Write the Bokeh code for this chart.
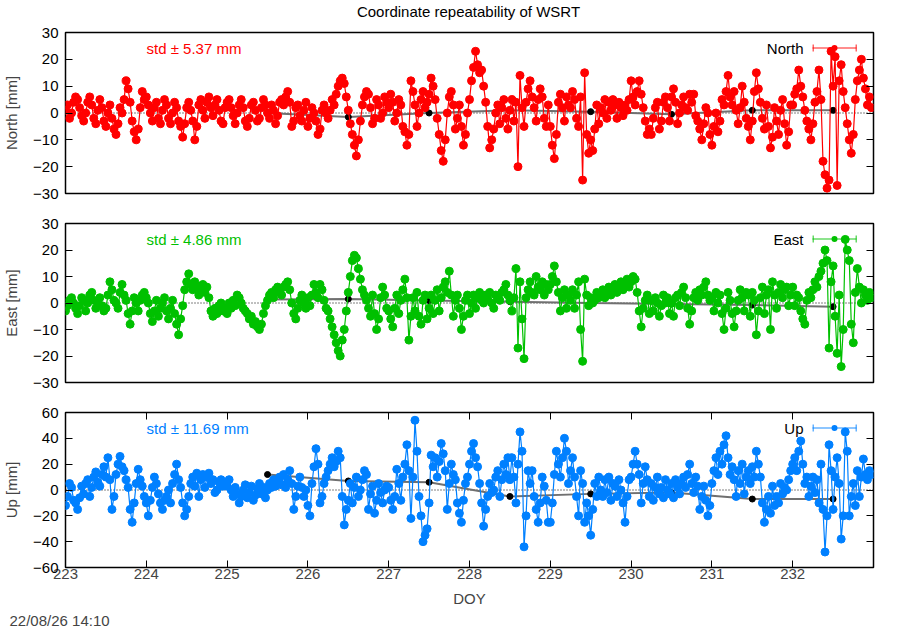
from bokeh.plotting import figure
from bokeh.models import Range1d, LinearAxis, FixedTicker, Label, BoxAnnotation, Title
from bokeh.layouts import column
from bokeh.embed import file_html
from bokeh.resources import INLINE

# ---------------- data ----------------
# one solution every 0.025 day (40 per day) from DOY 223.000
north = [
    1, 3, -2, 0, 4, 6, 5, 2, -1, -3, 0, 4, 6, 3, -2, -4, 1, 5, 2, -3,
    -5, 0, 3, -2, -6, -8, -4, 2, 0, 5, 12, 9, 4, -3, -7, -10, -6, 2, 8, 5,
    6, 3, 0, -3, 2, 4, -2, -4, 1, 5, 3, -2, -4, 0, 4, 2, -3, -5, -9, -4,
    2, 4, 1, -3, -10, -5, 3, 5, 1, -2, 4, 6, 2, -1, 3, 5, 1, -3, -4, 2,
    4, 5, 2, -1, -4, 0, 3, 5, 2, -3, -5, -2, 3, 4, 1, -3, -2, 2, 5, 3,
    0, -2, 3, 1, -4, -1, 4, 5, 3, 6, 8, 4, -5, -3, 2, 3, -1, -3, 1, 4,
    -5, -2, 2, 0, -3, -8, -6, 1, 3, 0, -2, 1, 5, 3, 7, 10, 12, 13, 11, 6,
    1, -4, -8, -12, -16, -10, -3, 3, 6, 8, 7, 2, -4, -2, 5, 3, -2, 0, 6, 4,
    2, 7, 4, -3, 0, 5, 3, -5, -7, -12, -8, 12, 8, 3, -5, 0, 5, 8, 2, 4,
    7, 13, 10, 5, -2, -8, -14, -18, -10, 0, 6, 8, 3, -6, -2, 3, -5, -12, -8, 0,
    5, 12, 17, 23, 18, 15, 16, 10, 4, -5, -13, -10, -6, 0, 3, -4, 2, 5, -2, -6,
    1, 5, -3, 4, -20, 14, 2, -5, 4, 9, 12, 6, 2, -3, 5, 9, 6, -2, -5, 3,
    -5, -12, -17, -8, 4, 7, 2, -3, 6, 3, 2, 8, 5, -2, -5, 6, -25, 15, -8, -15,
    -10, -14, -6, 3, -4, 2, 0, 5, -2, 4, 1, 5, 3, -2, 4, 2, -1, 3, 1, 5,
    12, 6, 3, 8, 12, 7, 2, -3, -8, -6, -8, -2, 2, 4, -6, -3, 4, 6, 2, -3,
    6, 9, 4, -4, 0, 3, 6, 2, 1, 7, 4, 7, -1, -3, -6, -10, -4, 2, 0, -8,
    -12, -5, 0, -7, -3, 5, 3, 8, 14, 6, 3, 8, 1, -4, 2, 10, 4, -2, -5, -10,
    -3, 8, 15, 9, 4, -2, -6, 3, -5, -13, -9, 2, -3, -8, 1, 5, -4, -12, -7, 3,
    3, 7, 9, 16, 10, 6, 1, -3, -6, -10, -4, 4, 8, 16, 5, -18, -23, -28, -25, 23,
    10, 21, -27, 12, 18, 8, 2, -4, -10, -15, -8, 5, 12, 16, 20, 13, 9, 3, 6, 2]

east = [
    -3, -1, 1, 2, 0, -2, -4, -1, 2, 1, -3, 0, 3, 4, 1, -2, 0, 2, -1, -3,
    -2, 3, 8, 5, 1, 0, -2, 4, 7, 3, 1, -4, -8, -3, 2, 0, -3, 1, 3, 4,
    2, 0, -4, -7, -3, 1, -5, -2, 0, 2, -3, -6, -2, 1, -4, -8, -12, -6, -1, 5,
    8, 11, 7, 5, 8, 6, 3, 5, 7, 4, 6, 2, -3, -5, -2, -4, -1, 0, -3, -2,
    -4, 0, -2, 1, -1, 3, 2, 0, -2, -3, -4, -6, -5, -8, -7, -9, -10, -8, -4, -1,
    1, 3, 4, 2, 5, 6, 4, 3, 6, 7, 8, 5, 0, -4, -6, -2, 1, 3, 0, -2,
    2, -1, 3, 7, 4, 2, 7, 5, 1, -2, -3, -6, -9, -12, -15, -18, -20, -14, -10, -3,
    4, 10, 16, 18, 17, 13, 9, 5, 3, 1, -2, -5, 3, -4, -10, -6, 2, 6, 3, -2,
    -3, -6, -9, -2, 3, -4, 1, 5, 9, 2, -14, -5, 2, -3, 4, -5, -8, 1, 3, -6,
    -2, 3, -4, 1, 5, -3, 2, 6, 8, 4, 12, 3, -5, 1, 3, -2, -10, -5, 1, 3,
    -4, 0, 3, -2, 2, 4, 1, 0, 3, 2, 4, 0, -2, 3, 2, 1, 4, 5, 7, 3,
    1, -3, 2, 13, -17, 8, -6, -21, 2, 5, 8, 4, 3, 10, 6, 5, 8, 3, 7, 5,
    7, 10, 14, 8, 4, -3, 2, 5, -2, 3, 1, 5, -2, 3, 8, -10, -22, 9, 3, -1,
    2, 0, 1, 4, 2, 3, 5, 2, 4, 6, 3, 5, 7, 4, 6, 8, 5, 7, 9, 6,
    8, 10, 9, 4, -3, -9, -2, 1, 3, -4, 1, -3, 2, 0, -5, -1, 3, 0, 2, -4,
    0, -5, 2, 3, -1, 4, 6, 2, -2, -8, -3, 2, 4, 1, 5, 3, 6, 8, 3, 1,
    2, -3, 4, 0, 3, -4, -10, -2, 4, 1, -4, -9, -3, 1, 5, 2, -3, 4, 3, -5,
    4, 1, -12, -3, 2, 6, -4, 3, 5, -10, 8, 3, -2, 4, 7, 2, 5, 6, -1, 3,
    6, -1, 3, 2, -3, -6, -8, 1, 4, 2, 5, 8, 6, 10, 12, 15, 20, 16, -17, 8,
    14, -5, -19, 3, -24, -10, 24, 20, 16, -8, -15, 4, 13, 6, 0, 5, 3, 1, 4, 2]

up = [
    -12, -5, 5, 2, -8, -10, -15, -6, 3, -3, 5, 8, -5, 2, 10, 14, 6, 3, 12, 18,
    10, 25, 8, -15, -5, 12, 20, 26, 18, 15, 8, 2, -15, -25, -10, 5, 16, 8, 3, -5,
    -10, -20, -8, 2, 10, 5, -3, -10, -15, -8, -5, 0, -10, 5, 12, 20, 8, 2, -10, -20,
    -15, -5, 5, 10, 3, 13, -5, 8, 12, 2, 10, 13, 5, 8, -2, 0, 6, 8, 3, 5,
    3, 8, 0, -5, 2, -3, -10, -5, 0, 4, -6, -2, 3, -8, -4, 1, 5, -3, 2, -6,
    0, 5, 2, 8, 3, 6, 10, 4, 12, 2, 8, 15, 5, -15, -5, 3, 10, 2, -5, 0,
    -12, -20, 5, 18, 32, 20, -10, -5, 5, 10, 15, 20, 25, 18, 22, 30, 25, -5, -27, -15,
    -8, 5, -10, 2, 10, -5, 0, 8, 15, 12, -15, -3, 3, -18, -8, 5, -2, -10, 0, 3,
    2, -8, -15, -5, 16, 5, -8, 10, 20, 35, 15, -22, 10, 54, 30, -5, -20, -40, -35, -30,
    -10, 27, 18, 25, 10, 22, 36, 28, 15, -15, 5, 20, 12, 8, -10, -18, -25, -8, 5, 10,
    20, 30, 36, 25, 18, 5, -10, -28, -15, -5, 5, -2, 0, 10, 15, -5, 8, 20, 12, 25,
    8, 25, 10, -10, 20, 45, 30, -44, -20, 15, 5, 15, -5, -15, -25, -10, 10, 3, -8, -25,
    -25, -10, 12, 30, 20, 10, 25, 40, 30, 5, 15, 25, 10, -5, -20, 15, 5, -25, -10, -20,
    -35, -15, 5, -5, 10, 0, -5, 8, -2, 10, -8, 5, 3, -5, 8, 0, -10, -25, -5, 8,
    10, 20, 30, 20, 12, -10, 5, 18, 8, -5, 5, -8, 2, 10, -3, 2, -6, 8, 0, -3,
    5, -6, 8, 2, -3, 5, 10, 2, 12, 20, 5, -2, 10, 3, -15, -5, 3, -8, -20, -12,
    5, 15, 25, 12, 30, 20, 35, 42, 25, 12, 18, 8, -5, 15, 5, 20, -3, 10, 15, 5,
    18, 10, 30, 20, 10, -10, -25, -15, -5, -18, 3, -12, -5, -10, 5, -3, 2, 0, 8, 15,
    20, 25, 15, 30, 38, 20, 5, 10, -5, 3, 10, -2, 8, -10, 20, -15, -48, -20, 35, 15,
    -15, 10, 25, 5, -38, -20, 45, 30, -20, -5, 5, -12, 15, -5, 10, 24, 12, 8, 15, 12]

# sampling epochs of the solutions (DOY)
doy = [223 + 0.025 * i for i in range(len(north))]

# daily solutions (black)
day_doy = [225.5, 226.5, 227.5, 228.5, 229.5, 230.5, 231.5, 232.5]
day_north = [0, -1.5, 0, 1, 0.5, -0.5, 1, 1]
day_east = [1.3, 1.5, 0.9, 0.5, 0, -0.4, -0.8, -1.4]
day_up = [12, 7, 6, -5, -3, -2, -7, -7]

x_ticks = [223, 224, 225, 226, 227, 228, 229, 230, 231, 232]
ne_ticks = [-30, -20, -10, 0, 10, 20, 30]
up_ticks = [-60, -40, -20, 0, 20, 40, 60]

names = ["North", "East", "Up"]
stds = ["std \u00b1 5.37 mm", "std \u00b1 4.86 mm", "std \u00b1 11.69 mm"]
colors = ["#ff0000", "#00c000", "#0080ff"]
title_text = "Coordinate repeatability of WSRT"
stamp_text = "22/08/26 14:10"

FONT = "Liberation Sans"
FS = "15px"
W = 900
ML, MR = 64, 27


def mirror_axis(ticks):
    # ticks only (drawn as minor ticks, so no labels are produced)
    return LinearAxis(ticker=FixedTicker(ticks=[], minor_ticks=ticks),
                      major_tick_line_color=None, minor_tick_in=7, minor_tick_out=0,
                      minor_tick_line_color="black", minor_tick_line_width=1,
                      axis_line_color=None, major_label_standoff=0)


def make_panel(vals, dvals, name, std, color, yr, yticks, height, btop, bbot, bottom_axis):
    p = figure(width=W, height=height, x_range=Range1d(223, 233), y_range=Range1d(*yr),
               output_backend="svg", toolbar_location=None,
               min_border_left=ML, min_border_right=MR,
               min_border_top=btop, min_border_bottom=bbot,
               x_axis_location="below" if bottom_axis else None)
    p.grid.visible = False
    p.outline_line_color = "black"
    p.outline_line_width = 1.5
    p.background_fill_color = "white"
    p.border_fill_color = "white"

    ya = p.yaxis[0]
    ya.ticker = FixedTicker(ticks=yticks)
    ya.major_tick_in = 7
    ya.major_tick_out = 0
    ya.minor_tick_line_color = None
    ya.axis_line_color = None
    ya.major_label_standoff = 7
    ya.major_label_text_font = FONT
    ya.major_label_text_font_size = FS
    ya.major_label_text_color = "black"
    ya.axis_label = name + " [mm]"
    ya.axis_label_text_font = FONT
    ya.axis_label_text_font_size = FS
    ya.axis_label_text_font_style = "normal"
    ya.axis_label_standoff = 10

    p.add_layout(mirror_axis(yticks), "right")

    if bottom_axis:
        xa = p.xaxis[0]
        xa.ticker = FixedTicker(ticks=x_ticks)
        xa.major_tick_in = 7
        xa.major_tick_out = 0
        xa.minor_tick_line_color = None
        xa.axis_line_color = None
        xa.major_label_standoff = 1
        xa.major_label_text_font = FONT
        xa.major_label_text_font_size = FS
        xa.axis_label = "DOY"
        xa.axis_label_text_font = FONT
        xa.axis_label_text_font_size = FS
        xa.axis_label_text_font_style = "normal"
        xa.axis_label_standoff = 8
        p.add_layout(mirror_axis(x_ticks), "above")

    # zero reference (dotted) and daily solutions
    p.line([223, 233], [0, 0], line_color="black", line_width=1, line_dash="1 2")
    p.line(day_doy, dvals, line_color="#707070", line_width=2)
    p.scatter(day_doy, dvals, size=6, color="black")

    # sub-daily solutions
    p.line(doy, vals, line_color=color, line_width=1.2)
    p.scatter(doy, vals, size=8, color=color)

    fh = height - btop - bbot
    p.add_layout(Label(x=81, y=fh - 16, x_units="screen", y_units="screen", text=std,
                       text_color=color, text_font=FONT, text_font_size=FS,
                       text_baseline="middle", text_align="left"))
    ly = fh - 15.5
    p.add_layout(Label(x=738, y=ly, x_units="screen", y_units="screen", text=name,
                       text_color="black", text_font=FONT, text_font_size=FS,
                       text_baseline="middle", text_align="right"))
    box = dict(left_units="screen", right_units="screen", bottom_units="screen",
               top_units="screen", line_color=None)
    p.add_layout(BoxAnnotation(left=747, right=791, bottom=ly - 0.75, top=ly + 0.75,
                               fill_color=color, fill_alpha=0.6, **box))
    for cx in (747, 790):
        p.add_layout(BoxAnnotation(left=cx, right=cx + 1.5, bottom=ly - 3.5, top=ly + 3.5,
                                   fill_color=color, fill_alpha=0.6, **box))
    p.add_layout(BoxAnnotation(left=766, right=772, bottom=ly - 3, top=ly + 3,
                               fill_color=color, fill_alpha=1.0, border_radius=3, **box))
    return p


# title strip
p0 = figure(width=W, height=20, output_backend="svg", toolbar_location=None,
            min_border_left=0, min_border_right=0, min_border_top=0, min_border_bottom=0,
            x_axis_location=None, y_axis_location=None, outline_line_color=None,
            x_range=Range1d(0, 1), y_range=Range1d(0, 1))
p0.grid.visible = False
p0.add_layout(Label(x=403, y=9.5, x_units="screen", y_units="screen", text=title_text,
                    text_font=FONT, text_font_size=FS, text_align="center",
                    text_baseline="middle", text_color="black"))

p1 = make_panel(north, day_north, names[0], stds[0], colors[0], (-30, 30), ne_ticks,
                188, 12, 15, False)
p2 = make_panel(east, day_east, names[1], stds[1], colors[1], (-30, 30), ne_ticks,
                190, 15, 16, False)
p3 = make_panel(up, day_up, names[2], stds[2], colors[2], (-60, 60), up_ticks,
                232, 14, 63, True)

p3.add_layout(Title(text=stamp_text, align="left", offset=-56, standoff=0,
                    text_font=FONT, text_font_size=FS, text_font_style="normal"),
              "below")

layout = column(p0, p1, p2, p3, spacing=0)
open("out.html", "w").write(file_html(layout, INLINE))
